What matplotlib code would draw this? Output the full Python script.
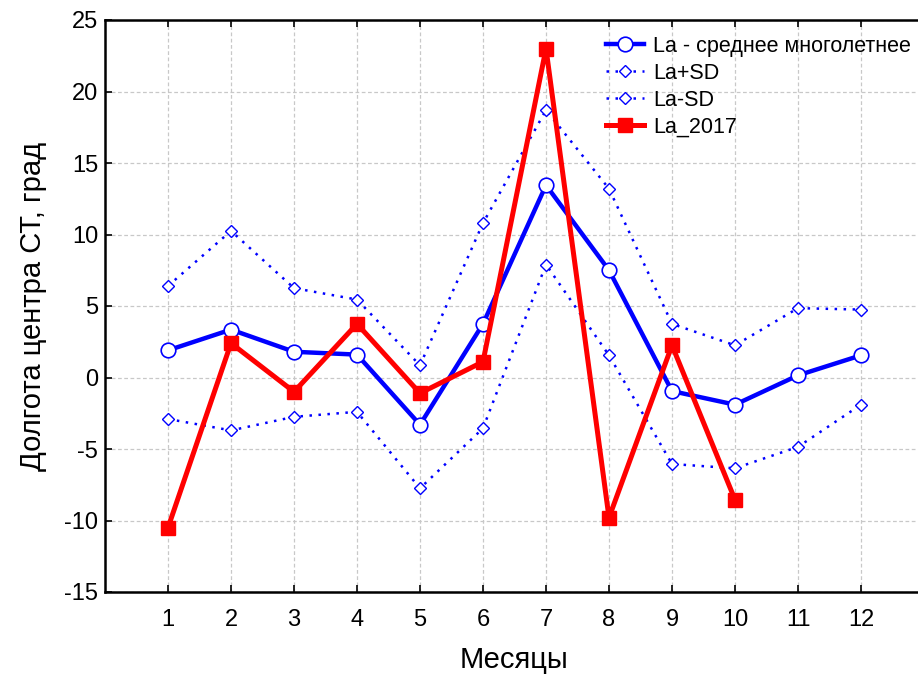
import matplotlib
matplotlib.use("Agg")
import matplotlib.pyplot as plt

plt.rcParams['font.family'] = ['Liberation Sans', 'DejaVu Sans']
plt.rcParams['axes.unicode_minus'] = False

months = [1, 2, 3, 4, 5, 6, 7, 8, 9, 10, 11, 12]
la_mean = [1.9, 3.35, 1.8, 1.6, -3.3, 3.75, 13.45, 7.5, -0.95, -1.9, 0.15, 1.55]
la_plus_sd = [6.4, 10.25, 6.25, 5.45, 0.85, 10.8, 18.7, 13.2, 3.75, 2.25, 4.85, 4.75]
la_minus_sd = [-2.9, -3.7, -2.75, -2.4, -7.75, -3.55, 7.9, 1.55, -6.05, -6.35, -4.85, -1.9]
months_2017 = [1, 2, 3, 4, 5, 6, 7, 8, 9, 10]
la_2017 = [-10.5, 2.4, -1.0, 3.75, -1.1, 1.1, 23.0, -9.8, 2.25, -8.55]

yticks = [-15, -10, -5, 0, 5, 10, 15, 20, 25]

W, H = 918, 675
fig = plt.figure(figsize=(W / 100, H / 100), dpi=100)
left, right, top, bottom = 105, 924, 20, 592
ax = fig.add_axes([left / W, 1 - bottom / H, (right - left) / W, (bottom - top) / H])

ax.plot(months, la_mean, color='#0000ff', lw=3.2, marker='o', ms=10.5,
        mfc='white', mec='#0000ff', mew=1.2, label='La - среднее многолетнее', zorder=4)
ax.plot(months, la_plus_sd, color='#0000ff', lw=1.8, ls=(0, (1, 2.6)), marker='D', ms=6,
        mfc='white', mec='#0000ff', mew=1.0, label='La+SD', zorder=3)
ax.plot(months, la_minus_sd, color='#0000ff', lw=1.8, ls=(0, (1, 2.6)), marker='D', ms=6,
        mfc='white', mec='#0000ff', mew=1.0, label='La-SD', zorder=3)
ax.plot(months_2017, la_2017, color='#ff0000', lw=3.6, marker='s', ms=9.5,
        mfc='#ff0000', mec='#ff0000', label='La_2017', zorder=5)

ax.set_xlim(0, 13)
ax.set_ylim(-15, 25)
ax.set_xticks(months)
ax.set_yticks(yticks)
ax.tick_params(axis='both', direction='in', length=5, width=1.2, labelsize=17,
               top=True, right=False)
ax.tick_params(axis='x', pad=12)
ax.tick_params(axis='y', pad=5)
ax.grid(True, color='#c8c8c8', ls=(0, (3, 2)), lw=0.9)
ax.set_axisbelow(True)
for s in ['left', 'bottom', 'top']:
    ax.spines[s].set_linewidth(1.8)
ax.spines['right'].set_visible(False)

ax.set_xlabel('Месяцы', fontsize=21, labelpad=11)
ax.set_ylabel('Долгота центра СТ, град', fontsize=21, labelpad=12)

leg = ax.legend(loc='upper left',
                bbox_to_anchor=((606 - left) / (right - left), 1 - (36 - top) / (bottom - top)),
                frameon=False, fontsize=15.5, handlelength=1.75, handletextpad=0.45,
                labelspacing=0.27, borderaxespad=0, borderpad=0)

fig.savefig('out.png', dpi=100)
